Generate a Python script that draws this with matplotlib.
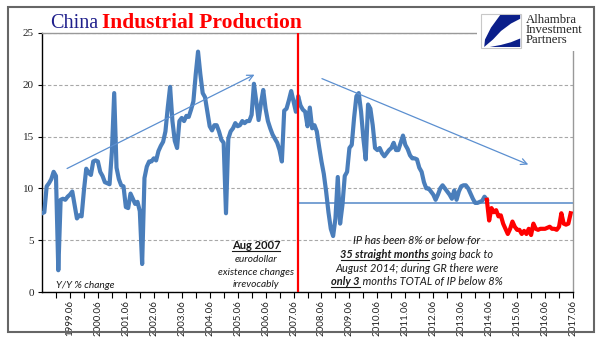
import numpy as np
import pandas as pd
import matplotlib
matplotlib.use("Agg")
import matplotlib.pyplot as plt
from matplotlib.patches import Rectangle, Polygon
from matplotlib.lines import Line2D

# China industrial production, Y/Y % change, monthly from 1998.06
months = pd.period_range("1998-06", "2017-06", freq="M")

ip_blue = [
    7.6, 7.7, 10.2, 10.5, 10.9, 11.6, 11.2, 2.1, 8.9, 9.0,
    8.9, 9.2, 9.4, 9.7, 8.4, 7.1, 7.4, 7.3, 9.8, 11.9,
    11.5, 11.3, 12.6, 12.7, 12.6, 11.6, 11.2, 10.6, 10.5, 10.4,
    13.5, 19.2, 12.0, 10.9, 10.3, 10.2, 8.2, 8.1, 9.5, 9.0,
    8.5, 8.7, 7.8, 2.7, 11.0, 12.1, 12.6, 12.6, 12.9, 12.7,
    13.6, 14.1, 14.5, 15.5, 17.8, 19.8, 16.5, 14.6, 13.9, 16.5,
    16.8, 16.5, 17.0, 16.9, 17.6, 18.4, 21.0, 23.2, 21.0, 19.2,
    18.8, 17.4, 16.0, 15.6, 16.1, 16.1, 15.5, 14.7, 14.4, 7.6,
    14.8, 15.5, 15.8, 16.3, 16.0, 16.1, 16.5, 16.3, 16.5, 16.5,
    17.1, 20.1, 18.4, 16.6, 18.2, 19.5, 17.7, 16.5, 15.8, 15.2,
    14.8, 14.4, 13.7, 12.6, 17.5, 17.7, 18.5, 19.4, 18.4, 17.4,
    18.9, 18.0, 17.6, 17.4, 16.0, 17.8, 15.8, 16.1, 15.5, 14.0,
    12.6, 11.4, 9.7, 7.7, 6.1, 5.4, 7.1, 11.1, 6.6, 8.4,
    11.2, 11.6, 13.9, 14.2, 16.8, 18.9, 19.2, 17.4, 14.8, 12.8,
    18.1, 17.7, 16.1, 13.9, 13.7, 13.9, 13.4, 13.1, 13.4, 13.7,
    13.9, 14.4, 13.7, 13.7, 14.4, 15.1, 14.2, 13.8, 13.2, 12.9,
    12.9, 12.8, 12.0, 11.6, 10.6, 10.0, 10.0, 9.7, 9.4, 8.9,
    9.4, 10.0, 10.3, 10.0, 9.7, 9.4, 9.0, 9.8, 8.9, 9.7,
    10.2, 10.3, 10.3, 10.0, 9.5, 9.0, 8.6, 8.6, 8.7, 8.8,
    9.2, 8.9,
]

# the last 35+ months, drawn in red (first point repeats the last blue one)
ip_red = [
    8.9, 6.9, 8.1, 7.7, 7.9, 7.3, 7.4, 6.6, 6.1, 5.6,
    6.1, 6.8, 6.3, 6.0, 6.0, 5.6, 5.9, 5.6, 6.1, 5.5,
    6.6, 6.1, 6.0, 6.1, 6.1, 6.1, 6.2, 6.3, 6.1, 6.1,
    6.0, 6.3, 7.6, 6.6, 6.5, 6.6, 7.6,
]

gr_floor = 8.55          # lowest rate seen during the Great Recession era
break_month = "2007-08"
trend_up = [(9.7, 11.8), (92.3, 21.1)]
trend_down = [(119.1, 20.7), (209.9, 12.2)]

W, H = 600, 337
BLUE = "#4a7ebb"
TXT = "#1a1a1a"


def fx(px):
    return px / W


def fy(py):
    return 1 - py / H


fig = plt.figure(figsize=(W / 100, H / 100), dpi=100)
ax = fig.add_axes([fx(42), fy(292), fx(573) - fx(42), fy(33) - fy(292)])

x_blue = np.arange(len(ip_blue))
x_red = np.arange(len(ip_blue) - 1, len(ip_blue) - 1 + len(ip_red))
ax.plot(x_blue, ip_blue, color=BLUE, lw=3, solid_joinstyle="round", zorder=3)
ax.plot(x_red, ip_red, color="#ff0000", lw=3, solid_joinstyle="round", zorder=3)

i_break = list(months.strftime("%Y-%m")).index(break_month)
ax.axvline(i_break, color="#ff0000", lw=1.6, zorder=4)
ax.hlines(gr_floor, i_break, len(months) - 1, color="#6d9ad0", lw=1.3, zorder=2)

arrow_kw = dict(arrowstyle="->", color="#5b8fd0", lw=0.9, mutation_scale=11)
ax.annotate("", xy=trend_up[1], xytext=trend_up[0], arrowprops=arrow_kw)
ax.annotate("", xy=trend_down[1], xytext=trend_down[0], arrowprops=arrow_kw)

ax.set_xlim(0, len(months) - 1)
ax.set_ylim(0, 25)
ax.set_yticks(range(0, 26, 5))
ax.yaxis.grid(True, linestyle=(0, (3, 2)), color="#a8a8a8", lw=0.8)
ax.set_axisbelow(True)

pos = np.arange(len(months))
is_june = months.month == 6
ax.set_xticks(pos[is_june & (pos > 0)])
ax.set_xticklabels(months[is_june & (pos > 0)].strftime("%Y.%m"), rotation=90,
                   fontsize=7, family="Lato", color="#222222")
ax.set_xticks(pos[months.month == 12], minor=True)
ax.tick_params(axis="x", which="both", length=4, width=0.8, pad=2)
ax.tick_params(axis="y", length=3, width=0.8, pad=3)
for lab in ax.get_yticklabels():
    lab.set_family("Liberation Serif")
    lab.set_fontsize(8)
    lab.set_color("#222222")

for s in ("left", "bottom"):
    ax.spines[s].set_color("black")
    ax.spines[s].set_linewidth(1)
for s in ("top", "right"):
    ax.spines[s].set_color("#999999")
    ax.spines[s].set_linewidth(1)

# outer frame
fig.add_artist(Rectangle((fx(8), fy(332)), fx(594) - fx(8), fy(7) - fy(332),
                         fill=False, edgecolor="#666666", lw=1.5, zorder=6))

# logo area
fig.add_artist(Rectangle((fx(477), fy(51)), fx(593) - fx(477), fy(8) - fy(51),
                         facecolor="white", edgecolor="none", zorder=5))
lx0, ly0, lw_, lh_ = 481, 48, 40, 34   # left, bottom (px from top), width, height


def logo_pt(u, v):
    return (fx(lx0 + u * lw_), fy(ly0 - v * lh_))


fig.add_artist(Rectangle(logo_pt(0, 0), lw_ / W, lh_ / H, facecolor="white",
                         edgecolor="#c8c8c8", lw=0.8, zorder=6))
wedge = [(0.48, 0.97), (0.98, 0.97), (0.98, 0.86), (0.75, 0.72), (0.5, 0.5),
         (0.3, 0.25), (0.08, 0.03), (0.1, 0.25), (0.25, 0.6)]
cres = [(0.22, 0.03), (0.98, 0.03), (0.98, 0.28), (0.75, 0.17), (0.5, 0.09)]
fig.add_artist(Polygon([logo_pt(u, v) for u, v in wedge], closed=True,
                       facecolor="#0b1f8a", edgecolor="none", zorder=7))
fig.add_artist(Polygon([logo_pt(u, v) for u, v in cres], closed=True,
                       facecolor="#0b1f8a", edgecolor="none", zorder=7))
fig.text(fx(526), fy(14), "Alhambra\nInvestment\nPartners", family="Liberation Serif",
         fontsize=9.2, linespacing=0.8, color="#222222", ha="left", va="top", zorder=7)

# title
renderer = fig.canvas.get_renderer()
t1 = fig.text(fx(50), fy(28), "China", family="Liberation Serif", fontsize=14.5,
              color="#1f1f8c", ha="left", va="baseline")
bb = t1.get_window_extent(renderer)
fig.text((bb.x1 + 4) / W, fy(28), "Industrial Production", family="Liberation Serif",
         fontsize=15.5, weight="bold", color="#ff0000", ha="left", va="baseline")


def rich_line(cx, yb, parts, size=7, style="italic"):
    x = 0.0
    arts = []
    for s, bold, ul in parts:
        t = fig.text(x / W, fy(yb), s, fontsize=size, family="Lato", style=style,
                     weight="bold" if bold else "normal", color=TXT,
                     ha="left", va="baseline")
        x = t.get_window_extent(renderer).x1
        arts.append((t, ul))
    left = arts[0][0].get_window_extent(renderer).x0
    shift = cx - (left + x) / 2
    for t, ul in arts:
        t.set_x(t.get_position()[0] + shift / W)
        if ul:
            b = t.get_window_extent(renderer)
            yl = fy(yb) - 1.5 / H
            fig.add_artist(Line2D([b.x0 / W, b.x1 / W], [yl, yl], lw=0.8, color=TXT))


rich_line(85, 288, [("Y/Y % change", False, False)], size=7.3)

rich_line(256, 249, [("Aug 2007", True, True)], size=8, style="normal")
rich_line(256, 262, [("eurodollar", False, False)], size=7.3)
rich_line(256, 275, [("existence changes", False, False)], size=7.3)
rich_line(256, 287, [("irrevocably", False, False)], size=7.3)

rich_line(417, 244, [("IP has been 8% or below for", False, False)], size=7.9)
rich_line(417, 258, [("35 straight months", True, True), (" going back to", False, False)], size=7.9)
rich_line(417, 272, [("August 2014; during GR there were", False, False)], size=7.9)
rich_line(417, 285, [("only 3", True, True), (" months TOTAL of IP below 8%", False, False)], size=7.9)

fig.savefig("out.png", dpi=100)
